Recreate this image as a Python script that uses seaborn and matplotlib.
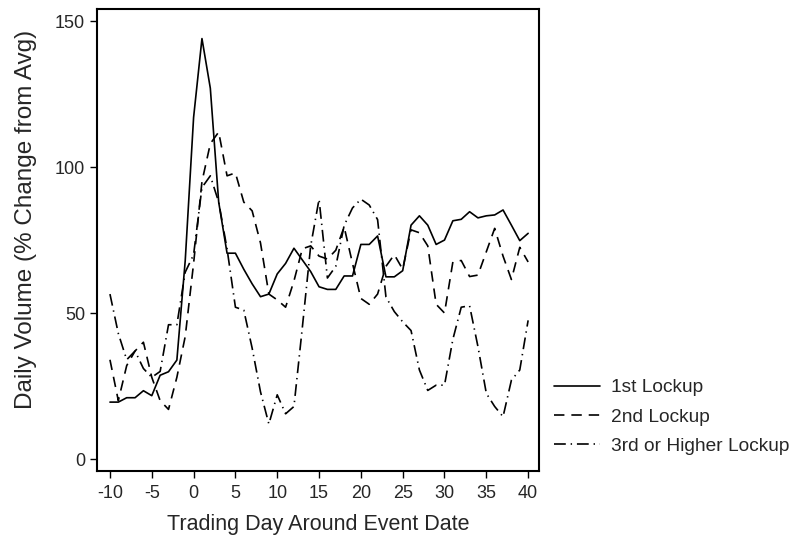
import numpy as np
import pandas as pd
import matplotlib
matplotlib.use("Agg")
import matplotlib.pyplot as plt
import seaborn as sns

days = list(range(-10, 41))

first_lockup = [19.5, 19.5, 21, 21, 23.4, 21.7, 28.7, 29.9, 33.9, 68, 117,
                144, 127, 88, 70.5, 70.5, 65, 60, 55.6, 56.5, 63.4,
                67, 72.2, 68.2, 64.2, 59, 58.1, 58.1, 62.7, 62.7, 73.5,
                73.5, 76.4, 62.4, 62.4, 64.5, 80.1, 83.3, 80.1, 73.5, 75,
                81.6, 82.1, 84.7, 82.6, 83.3, 83.6, 85.3, 80.1, 74.8, 77.3]

second_lockup = [34, 20, 32, 37, 40, 28, 20, 17, 28, 42, 67,
                 95, 108, 112, 97, 98, 88, 85, 74, 56.5, 54.5,
                 52, 61, 72, 73, 69.5, 68.5, 71.5, 79.5, 67, 55,
                 53, 56.5, 66, 70, 65, 78.5, 77.5, 73, 53, 50,
                 67.5, 68, 62.5, 63, 71, 79, 69.5, 61.5, 72.5, 67.5]

third_lockup = [56.5, 43, 34, 37, 31, 28, 30, 46, 46, 64, 70,
                93, 97, 88, 72, 52, 51, 38, 23, 12, 22,
                15.5, 18, 45, 73, 89, 62, 66, 80, 86, 89,
                87, 82, 55.5, 50.5, 47, 44, 30.5, 23.5, 25.3, 25.3,
                41, 52, 52.5, 38.5, 22.5, 18, 14.5, 27, 30.5, 47.5]

series_names = ["1st Lockup", "2nd Lockup", "3rd or Higher Lockup"]
x_ticks = list(range(-10, 41, 5))
y_ticks = [0, 50, 100, 150]

df = pd.concat([
    pd.DataFrame({"day": days, "value": vals, "series": name})
    for name, vals in zip(series_names, [first_lockup, second_lockup, third_lockup])
], ignore_index=True)

sns.set_style("white")
plt.rcParams["font.family"] = ["Liberation Sans", "DejaVu Sans"]
plt.rcParams["lines.scale_dashes"] = False

fig = plt.figure(figsize=(7.99, 5.35), dpi=100)
ax = fig.add_axes([0.1214, 0.1196, 0.5532, 0.8645])

dash_map = {
    "1st Lockup": "",
    "2nd Lockup": (7.5, 5.0),
    "3rd or Higher Lockup": (8.5, 3.5, 1.0, 3.5),
}

sns.lineplot(data=df, x="day", y="value", style="series",
             style_order=series_names, dashes=dash_map,
             color="black", linewidth=1.2, ax=ax, legend=True,
             estimator=None)

handles, labels = ax.get_legend_handles_labels()
if ax.get_legend() is not None:
    ax.get_legend().remove()
ax.legend(handles=handles, labels=labels, loc="center left",
          bbox_to_anchor=(0.995, 0.117), frameon=False, fontsize=13.8,
          handlelength=2.4, handletextpad=0.55, labelspacing=0.62)

ax.set_xlim(-11.55, 41.3)
ax.set_ylim(-4.1, 154.3)
ax.set_xticks(x_ticks)
ax.set_yticks(y_ticks)
ax.set_xticklabels([str(v) for v in x_ticks], fontsize=13)
ax.set_yticklabels([str(v) for v in y_ticks], fontsize=13)
ax.tick_params(axis="x", pad=5)
ax.tick_params(axis="both", direction="out", length=5, width=1.0,
               color="black", left=True, bottom=True)
for s in ax.spines.values():
    s.set_visible(True)
    s.set_color("black")
    s.set_linewidth(1.5)

ax.set_xlabel("Trading Day Around Event Date", fontsize=15.5, labelpad=9)
ax.set_ylabel("Daily Volume (% Change from Avg)", fontsize=17.5)
ax.yaxis.set_label_coords(-0.135, 0.545)

fig.savefig("out.png", dpi=100, facecolor="white")
